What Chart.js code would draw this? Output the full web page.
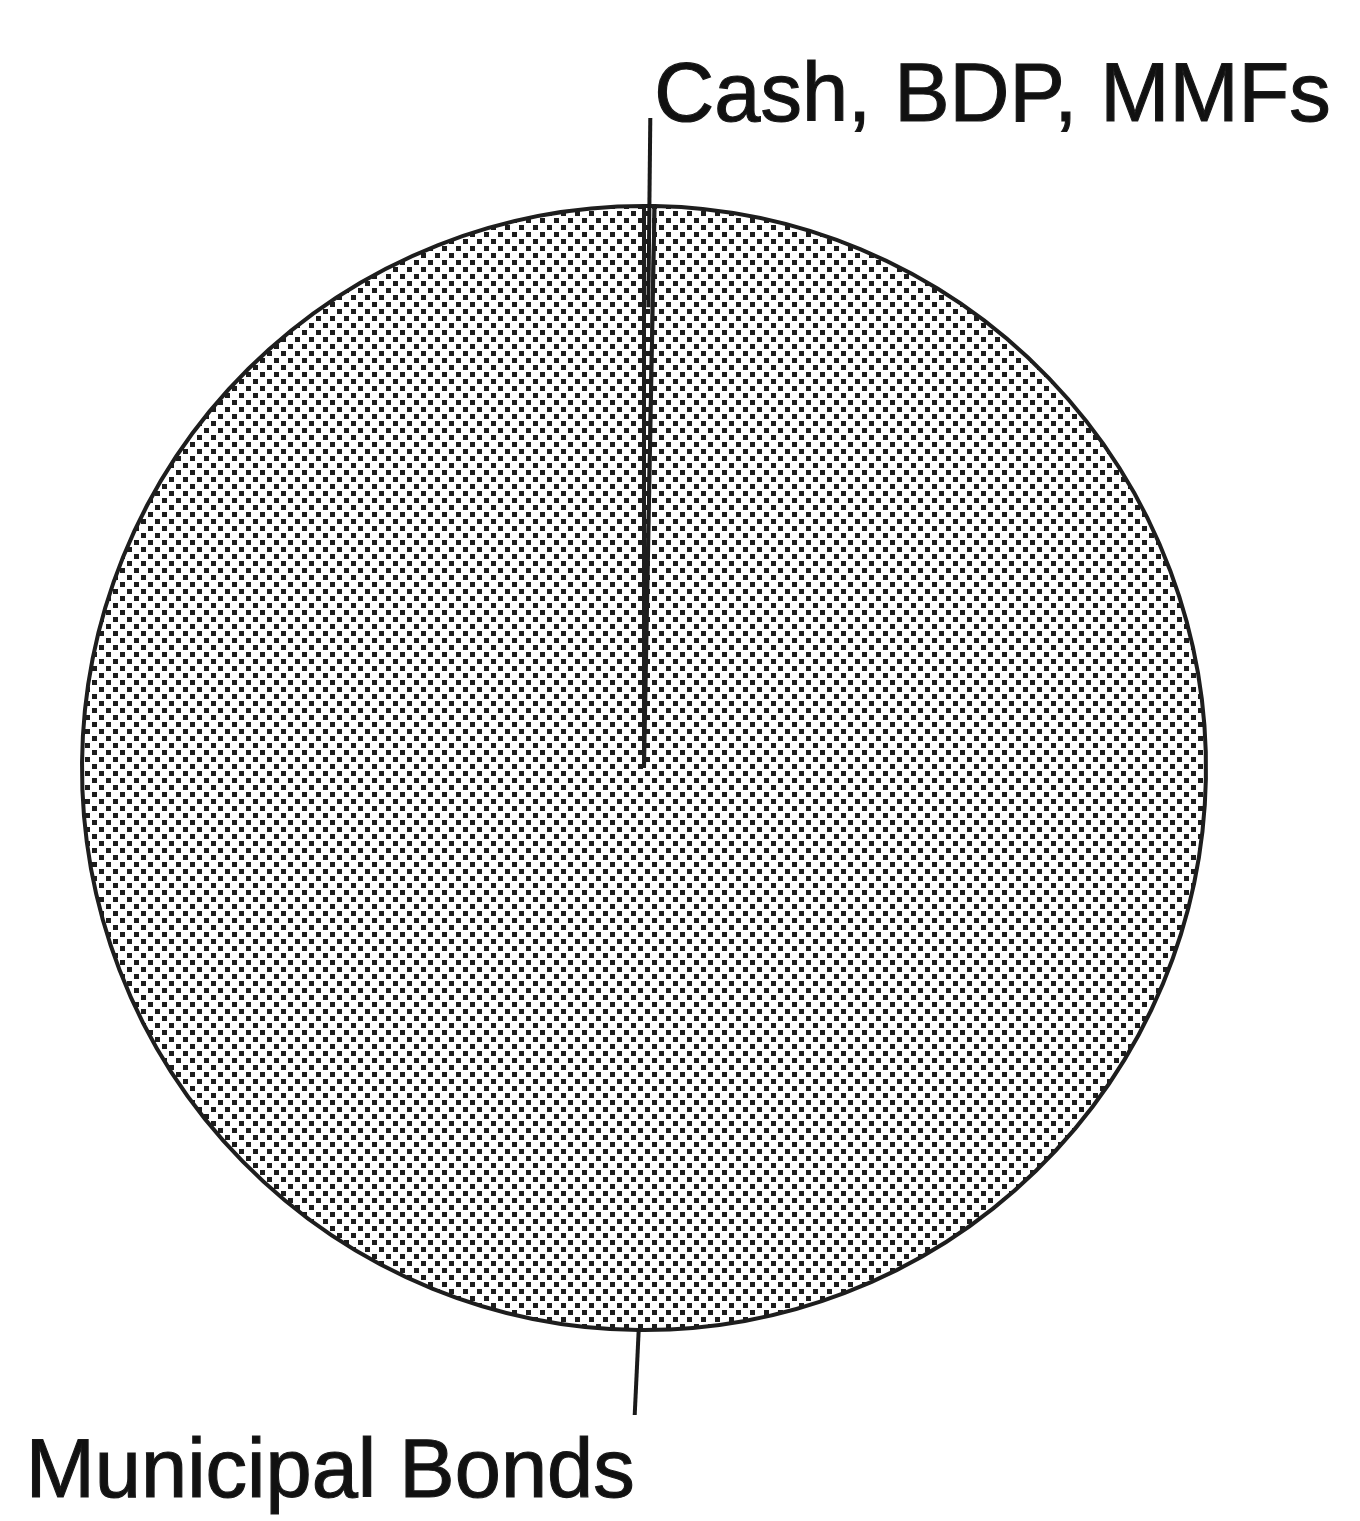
<!DOCTYPE html>
<html>
<head>
<meta charset="utf-8">
<script src="https://cdn.jsdelivr.net/npm/chart.js@4.4.1/dist/chart.umd.min.js"></script>
<style>
  html, body { margin: 0; padding: 0; background: #fff; }
  #wrap { width: 1360px; height: 1521px; }
</style>
</head>
<body>
<div id="wrap"><canvas id="pie"></canvas></div>
<script>
// data
var labels = ['Cash, BDP, MMFs', 'Municipal Bonds'];
var values = [0.3, 99.7];

// dotted fill like the printed original
function dotPattern() {
    var c = document.createElement('canvas');
    c.width = 14; c.height = 14;
    var g = c.getContext('2d');
    g.fillStyle = '#ffffff';
    g.fillRect(0, 0, 14, 14);
    g.fillStyle = '#1c1c1c';
    g.fillRect(1, 1, 5, 5);
    g.fillRect(8, 8, 5, 5);
    return g.createPattern(c, 'repeat');
}
var fill = dotPattern();

// leader lines + labels
var leaderLabels = {
    id: 'leaderLabels',
    afterDraw: function (chart) {
        var ctx = chart.ctx;
        var arcs = chart.getDatasetMeta(0).data;
        ctx.save();
        ctx.strokeStyle = '#1a1a1a';
        ctx.fillStyle = '#111';
        ctx.lineWidth = 4;
        ctx.textBaseline = 'alphabetic';

        // Cash, BDP, MMFs - line goes from inside the slice up to the label
        var a = arcs[0];
        var mid = (a.startAngle + a.endAngle) / 2;
        var x0 = a.x + Math.cos(mid) * a.outerRadius * 0.82;
        var y0 = a.y + Math.sin(mid) * a.outerRadius * 0.82;
        var x1 = a.x + Math.cos(mid) * a.outerRadius + 1;
        var y1 = 118;
        ctx.beginPath();
        ctx.moveTo(x0, y0);
        ctx.lineTo(x1, y1);
        ctx.stroke();
        ctx.font = '83px "Liberation Sans", Arial, sans-serif';
        ctx.textAlign = 'left';
        ctx.lineWidth = 1.2;
        ctx.fillText(labels[0], x1 + 4, 121);
        ctx.strokeText(labels[0], x1 + 4, 121);

        // Municipal Bonds - line below the pie
        var b = arcs[1];
        var midB = (b.startAngle + b.endAngle) / 2;
        var bx = b.x + Math.cos(midB) * b.outerRadius;
        var by = b.y + Math.sin(midB) * b.outerRadius;
        ctx.lineWidth = 4;
        ctx.beginPath();
        ctx.moveTo(bx, by);
        ctx.lineTo(bx - 4, 1415);
        ctx.stroke();
        ctx.font = '83px "Liberation Sans", Arial, sans-serif';
        ctx.textAlign = 'right';
        ctx.lineWidth = 1.2;
        ctx.fillText(labels[1], bx - 4, 1497);
        ctx.strokeText(labels[1], bx - 4, 1497);
        ctx.restore();
    }
};

var chart = new Chart(document.getElementById('pie'), {
    type: 'pie',
    data: {
        labels: labels,
        datasets: [{
            data: values,
            backgroundColor: [fill, fill],
            borderColor: '#1e1e1e',
            borderWidth: 4
        }]
    },
    options: {
        responsive: true,
        maintainAspectRatio: false,
        animation: { duration: 0 },
        layout: { padding: { left: 80, right: 152, top: 204, bottom: 189 } },
        plugins: {
            legend: { display: false },
            tooltip: { enabled: false }
        }
    },
    plugins: [leaderLabels]
});
</script>
</body>
</html>
